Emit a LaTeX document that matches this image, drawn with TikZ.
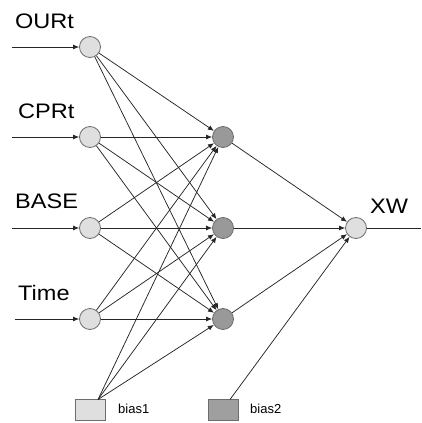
\documentclass[tikz,border=0pt]{standalone}
\usepackage{fontspec}
\setmainfont{Liberation Sans}
\newfontfamily\grandfont[FakeStretch=1.12]{Liberation Sans}
\usetikzlibrary{arrows.meta}

\begin{document}
\begin{tikzpicture}[x=1pt,y=-1pt,>={Latex[length=6pt,width=5pt]},
    neurone/.style={circle,draw=gray!85!black,line width=0.8pt,minimum size=21pt,inner sep=0pt},
    biais/.style={rectangle,draw=gray!85!black,line width=0.8pt,minimum width=30pt,minimum height=21pt,inner sep=0pt},
    lien/.style={->,draw=black!85,line width=0.75pt},
    etiq/.style={anchor=base west,inner sep=0pt,font=\grandfont\fontsize{21}{25}\selectfont},
    petit/.style={anchor=base west,inner sep=0pt,font=\fontsize{13}{15}\selectfont}]
\useasboundingbox (0,0) rectangle (421,423);
    %reseau
    \node[neurone,fill=gray!25] (e1) at (90,47) {};
    \node[neurone,fill=gray!25] (e2) at (90,137) {};
    \node[neurone,fill=gray!25] (e3) at (90,228) {};
    \node[neurone,fill=gray!25] (e4) at (90,319) {};
            \node[neurone,fill=gray!80] (c1) at (223,137) {};
            \node[neurone,fill=gray!80] (c2) at (223,228) {};
            \node[neurone,fill=gray!80] (c3) at (223,319) {};
    \node[neurone,fill=gray!25] (s) at (356,228) {};
\node[biais,fill=gray!25] (b1) at (90,410) {};
\node[biais,fill=gray!75] (b2) at (223,410) {};
    \coordinate (b1h) at (98,399.5);
    \coordinate (b2h) at (230,399.5);

\node[etiq] (lOURt) at (15,28) {OURt};
\node[etiq] (lCPRt) at (18,118) {CPRt};
\node[etiq] (lBASE) at (15,208) {BASE};
\node[etiq] (lTime) at (18,300) {Time};
\node[etiq] (lXW) at (370,213) {XW};
\node[petit] (lb1) at (118,413) {bias1};
\node[petit] (lb2) at (250,413) {bias2};

            \coordinate (x1) at (12,47);
            \coordinate (x2) at (12,137);
            \coordinate (x3) at (12,228);
            \coordinate (x4) at (15,319);
            \coordinate (fin) at (421,228);
            \draw[lien] (x1) -- (e1);
            \draw[lien] (x2) -- (e2);
            \draw[lien] (x3) -- (e3);
            \draw[lien] (x4) -- (e4);
    \path (e1) edge[lien] (c1) edge[lien] (c2) edge[lien] (c3);
    \path (e2) edge[lien] (c1) edge[lien] (c2) edge[lien] (c3);
    \path (e3) edge[lien] (c1) edge[lien] (c2) edge[lien] (c3);
    \path (e4) edge[lien] (c1) edge[lien] (c2) edge[lien] (c3);
    \path (b1h) edge[lien] (c1) edge[lien] (c2) edge[lien] (c3);
    \path (c1) edge[lien] (s) (c2) edge[lien] (s) (c3) edge[lien] (s);
    \draw[lien] (b2h) -- (s);
    \draw[draw=black!85,line width=0.75pt] (s) -- (fin);
\end{tikzpicture}
\end{document}
